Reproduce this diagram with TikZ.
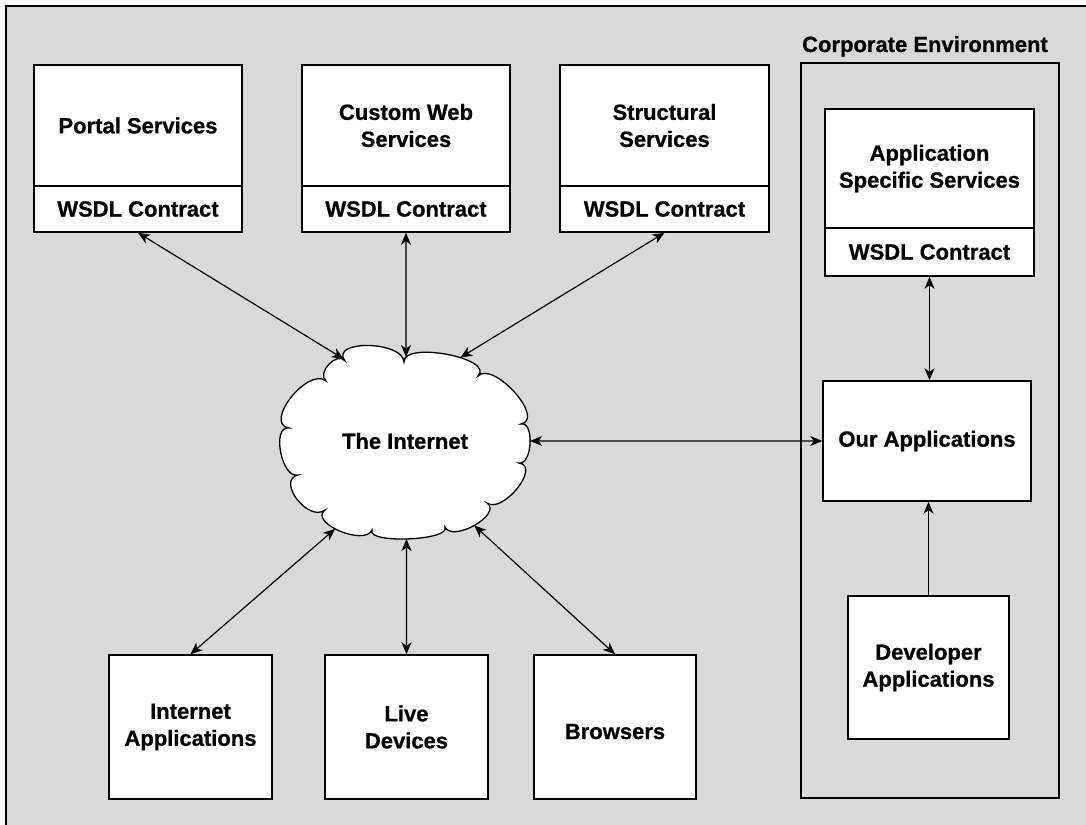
\documentclass[tikz,border=0pt]{standalone}
\usepackage{fontspec}
\setmainfont{Liberation Sans}[BoldFeatures={FakeBold=0.7}]
\usetikzlibrary{arrows.meta,calc,intersections}
\definecolor{bgray}{HTML}{D9D9D9}
\begin{document}
\begin{tikzpicture}[x=1pt,y=-1pt,
  box/.style={draw=black,fill=white,line width=1.5pt,inner sep=0pt,align=center,text=black,
    font=\fontsize{22}{27}\selectfont\bfseries},
  lbl/.style={inner sep=0pt,align=center,text=black,font=\fontsize{22}{27}\selectfont\bfseries},
  conn/.style={line width=1.2pt,draw=black},
  >={Stealth[length=12pt,width=10pt,inset=3.5pt]}]
\useasboundingbox (0,0) rectangle (1086,824);
\fill[bgray] (6,6) rectangle (1100,840);
\draw[line width=2pt] (6,840) -- (6,6) -- (1100,6);

% top services
\node[box,minimum width=208,minimum height=121] (portalT) at (138,125.5) {Portal Services};
\node[box,minimum width=208,minimum height=46] (portalW) at (138,209) {WSDL Contract};
\node[box,minimum width=208,minimum height=121] (cwT) at (406,125.5) {Custom Web\\Services};
\node[box,minimum width=208,minimum height=46] (cwW) at (406,209) {WSDL Contract};
\node[box,minimum width=209,minimum height=121] (stT) at (664.5,125.5) {Structural\\Services};
\node[box,minimum width=209,minimum height=46] (stW) at (664.5,209) {WSDL Contract};

% corporate environment
\node[draw=black,line width=1.5pt,minimum width=258,minimum height=735,inner sep=0pt] (corp) at (930,430.5) {};
\node[lbl,anchor=base] (corpL) at (925,52) {Corporate Environment};
\node[box,minimum width=209,minimum height=119] (appT) at (929.5,168.5) {Application\\Specific Services};
\node[box,minimum width=209,minimum height=48] (appW) at (929.5,252) {WSDL Contract};
\node[box,minimum width=208,minimum height=120] (our) at (927,441) {Our Applications};
\node[box,minimum width=161,minimum height=143] (dev) at (928.5,667.5) {Developer\\Applications};

% bottom clients
\node[box,minimum width=163,minimum height=144] (iapps) at (190.5,727) {Internet\\Applications};
\node[box,minimum width=163,minimum height=144] (live) at (406.5,727) {Live\\Devices};
\node[box,minimum width=162,minimum height=144,text depth=0pt,text height=24pt] (brow) at (615,727) {Browsers};

% cloud
\coordinate (C) at (408,447);
\coordinate (D1) at (345,361);
\coordinate (D2) at (404,362);
\coordinate (D3) at (478,376);
\coordinate (D4) at (521,424);
\coordinate (D5) at (519,463);
\coordinate (D6) at (487,503);
\coordinate (D7) at (445,527);
\coordinate (D8) at (372,530);
\coordinate (D9) at (325,510);
\coordinate (D10) at (298,475);
\coordinate (D11) at (289,428);
\coordinate (D12) at (326,381);
\path[draw=black,fill=white,line width=1.3pt,line join=miter,name path=cloudp]
  (D1) .. controls ($(C)!1.25!(D1)$) and ($(C)!1.25!(D2)$) .. (D2)
       .. controls ($(C)!1.25!(D2)$) and ($(C)!1.25!(D3)$) .. (D3)
       .. controls ($(C)!1.22!(D3)$) and ($(C)!1.22!(D4)$) .. (D4)
       .. controls ($(C)!1.12!(D4)$) and ($(C)!1.12!(D5)$) .. (D5)
       .. controls ($(C)!1.2!(D5)$) and ($(C)!1.2!(D6)$) .. (D6)
       .. controls ($(C)!1.2!(D6)$) and ($(C)!1.2!(D7)$) .. (D7)
       .. controls ($(C)!1.17!(D7)$) and ($(C)!1.17!(D8)$) .. (D8)
       .. controls ($(C)!1.2!(D8)$) and ($(C)!1.2!(D9)$) .. (D9)
       .. controls ($(C)!1.2!(D9)$) and ($(C)!1.2!(D10)$) .. (D10)
       .. controls ($(C)!1.15!(D10)$) and ($(C)!1.15!(D11)$) .. (D11)
       .. controls ($(C)!1.22!(D11)$) and ($(C)!1.22!(D12)$) .. (D12)
       .. controls ($(C)!1.12!(D12)$) and ($(C)!1.12!(D1)$) .. (D1) -- cycle;
\node[lbl] (net) at (405,441) {The Internet};

% guide lines to find where connectors meet the cloud
\path[name path=g1] (portalW.south) -- ($(portalW.south)!1.1!(347,361)$);
\path[name path=g2] (cwW.south) -- ++(0,160);
\path[name path=g3] (stW.south) -- ($(stW.south)!1.15!(458,359)$);
\path[name path=g4] (our.west) -- ++(-320,0);
\path[name path=g5] (iapps.north) -- ($(iapps.north)!1.15!(336,528)$);
\path[name path=g6] (live.north) -- ++(0,-160);
\path[name path=g7] (brow.north) -- ($(brow.north)!1.15!(477,528)$);
\path[name intersections={of=cloudp and g1,sort by=g1,by={c1}}];
\path[name intersections={of=cloudp and g2,sort by=g2,by={c2}}];
\path[name intersections={of=cloudp and g3,sort by=g3,by={c3}}];
\path[name intersections={of=cloudp and g4,sort by=g4,by={c4}}];
\path[name intersections={of=cloudp and g5,sort by=g5,by={c5}}];
\path[name intersections={of=cloudp and g6,sort by=g6,by={c6}}];
\path[name intersections={of=cloudp and g7,sort by=g7,by={c7}}];

% connectors
\draw[conn,<->] (portalW.south) -- (c1);
\draw[conn,<->] (cwW.south) -- (c2);
\draw[conn,<->] (stW.south) -- (c3);
\draw[conn,<->] (our.west) -- (c4);
\draw[conn,<->] (iapps.north) -- (c5);
\draw[conn,<->] (live.north) -- (c6);
\draw[conn,<->] (brow.north) -- (c7);
\draw[conn,<->] (appW.south) -- (appW.south |- our.north);
\draw[conn,->] (dev.north) -- (dev.north |- our.south);
\end{tikzpicture}
\end{document}
